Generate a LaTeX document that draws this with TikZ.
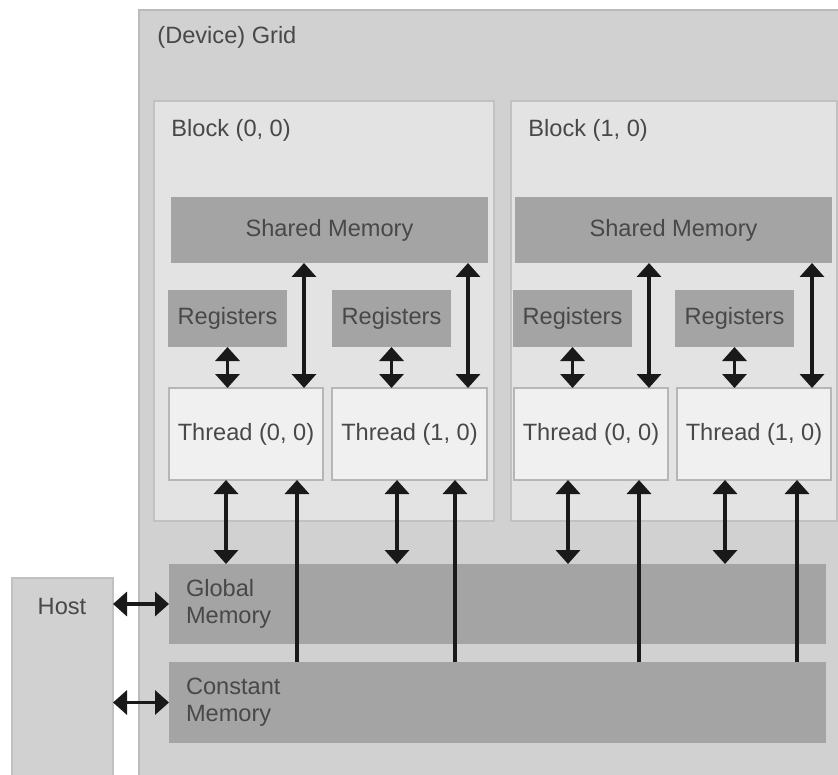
\documentclass[tikz,border=0pt]{standalone}
\usepackage{fontspec}
\setmainfont{Liberation Sans}
\usetikzlibrary{arrows.meta,positioning,calc}
\definecolor{gridfill}{RGB}{208,209,208}
\definecolor{gridline}{RGB}{186,187,186}
\definecolor{blockfill}{RGB}{227,227,227}
\definecolor{blockline}{RGB}{192,193,192}
\definecolor{memfill}{RGB}{163,164,163}
\definecolor{thrfill}{RGB}{240,240,240}
\definecolor{thrline}{RGB}{182,182,182}
\definecolor{txtgray}{RGB}{72,72,72}

\begin{document}
\begin{tikzpicture}[
    x=0.5pt, y=-0.5pt,
    box/.style={rectangle, anchor=north west, inner sep=0pt, outer sep=0pt, font=\fontsize{11.8}{13.5}\selectfont, text=txtgray},
    gridbox/.style={box, draw=gridline, fill=gridfill, line width=1.2pt},
    blockbox/.style={box, draw=blockline, fill=blockfill, line width=1.2pt},
    membox/.style={box, fill=memfill},
    regbox/.style={membox, minimum width=59.5pt, minimum height=28.5pt},
    thrbox/.style={box, draw=thrline, fill=thrfill, line width=0.8pt, minimum width=77pt, minimum height=46pt},
    lbl/.style={anchor=west, inner sep=0pt, font=\fontsize{11.8}{13.5}\selectfont, text=txtgray},
    tip/.tip={Triangle[width=12pt, length=7pt]},
    dbl/.style={tip-tip, line width=1.8pt, black!90},
    upar/.style={-tip, line width=1.8pt, black!90}
]
    \useasboundingbox (0,0) rectangle (838,774);

    % device grid and host
    \node[gridbox, minimum width=355pt, minimum height=390pt] (grid) at (139,10) {};
    \node[lbl] (gridlbl) at (157,37) {(Device) Grid};
    \node[gridbox, draw=blockline, minimum width=50.5pt, minimum height=100pt] (host) at (12,578) {};
    \node[lbl, anchor=center] (hostlbl) at (62,606) {Host};

    % blocks
    \node[blockbox, minimum width=170pt, minimum height=210pt] (blk0) at (154,101) {};
    \node[blockbox, minimum width=163pt, minimum height=210pt] (blk1) at (511,101) {};
    \node[lbl] (blk0lbl) at (171,130) {Block (0, 0)};
    \node[lbl] (blk1lbl) at (528,130) {Block (1, 0)};

    \node[membox, minimum width=158.5pt, minimum height=33pt] (sh0) at (171,197) {Shared Memory};
    \node[membox, minimum width=158.5pt, minimum height=33pt] (sh1) at (515,197) {Shared Memory};

    \node[regbox] (reg00) at (168,290) {Registers};
    \node[regbox] (reg01) at (332,290) {Registers};
    \node[regbox] (reg10) at (513,290) {Registers};
    \node[regbox] (reg11) at (675,290) {Registers};

    \node[thrbox] (thr00) at (169,388) {Thread (0, 0)};
    \node[thrbox, minimum width=77.5pt] (thr01) at (332,388) {Thread (1, 0)};
    \node[thrbox] (thr10) at (514,388) {Thread (0, 0)};
    \node[thrbox] (thr11) at (677,388) {Thread (1, 0)};

    % global and constant memory
    \node[membox, align=left, text width=311.5pt, inner xsep=8.5pt, minimum height=40pt] (glob) at (169,564) {Global\\Memory};
    \node[membox, align=left, text width=311.5pt, inner xsep=8.5pt, minimum height=40.5pt] (const) at (169,662) {Constant\\Memory};

    % registers <-> threads, shared memory <-> threads
    \foreach \r/\t/\s in {reg00/thr00/sh0, reg01/thr01/sh0, reg10/thr10/sh1, reg11/thr11/sh1} {
        \draw[dbl] (\r) -- (\r |- \t.north);
        \coordinate (sx) at ($(\t.north east)+(-19,0)$);
        \draw[dbl] (sx) -- (sx |- \s.south);
    }

    % threads <-> global, constant -> threads
    \foreach \t/\g/\c in {thr00/57/128, thr01/65/123, thr10/54/125, thr11/48/120} {
        \coordinate (gx) at ($(\t.south west)+(\g,0)$);
        \draw[dbl] (gx) -- (gx |- glob.north);
        \coordinate (cx) at ($(\t.south west)+(\c,0)$);
        \draw[upar] (cx |- const.north) -- (cx);
    }

    % host
    \draw[dbl] (host.east |- glob) -- (glob.west);
    \draw[dbl] (host.east |- const) -- (const.west);
\end{tikzpicture}
\end{document}
